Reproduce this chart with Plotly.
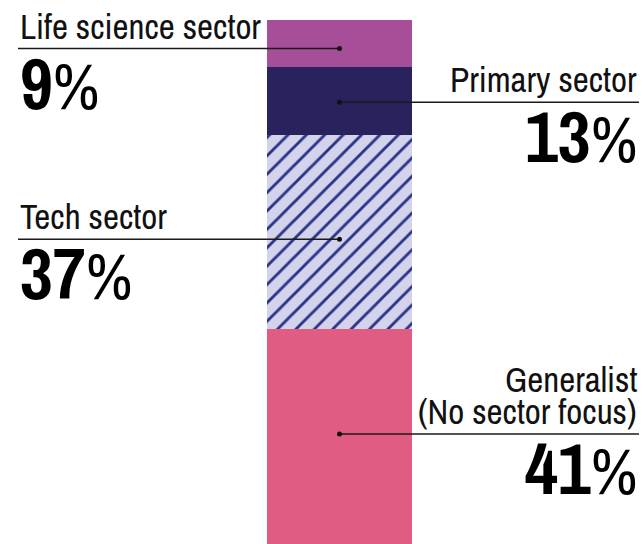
import plotly.graph_objects as go

# Share of funds by sector focus, stacked bottom to top
sectors = ["Generalist (No sector focus)", "Tech sector", "Primary sector", "Life science sector"]
shares = [41, 37, 13, 9]
label_lines = [["Generalist", "(No sector focus)"], ["Tech sector"], ["Primary sector"], ["Life science sector"]]
label_side = ["right", "left", "right", "left"]

colors = ["#E05C83", "#D3D4EB", "#28235C", "#A64E97"]
hatch = [False, True, False, False]

W, H = 643, 544
FONT = "Archivo Narrow, Roboto Condensed, sans-serif"

# pixel nudges of each leader line relative to the segment middle (positive = up)
line_nudge = [2.5, -7, -1, -5]

fig = go.Figure()
for name, v, c, h in zip(sectors, shares, colors, hatch):
    marker = dict(color=c, line=dict(width=0))
    if h:
        marker["pattern"] = dict(shape="/", fgcolor="#2B3388", bgcolor=c, fgopacity=1,
                                 size=13, solidity=0.22, fillmode="overlay")
    fig.add_trace(go.Bar(x=[0], y=[v], name=name, width=1, marker=marker,
                         hoverinfo="skip", showlegend=False))

# axis ranges chosen so the bar spans 145px, centred near x=340, top at y=20
px_per_x = 145.0
x_centre = 339.5
x_range = [-x_centre / px_per_x, (W - x_centre) / px_per_x]
px_per_y = (H - 20) / 100.0
y_range = [0, H / px_per_y]

left_x = 18 / W
right_x = 639 / W

shapes = []
annotations = []
cum = 0
for i, v in enumerate(shares):
    mid = cum + v / 2
    cum += v
    off = line_nudge[i]
    side = label_side[i]
    x_edge = left_x if side == "left" else right_x
    x_dot_paper = x_centre / W
    # leader line from the label edge to the bar centre, ending in a dot
    shapes.append(dict(type="line", xref="paper", yref="y", ysizemode="pixel",
                       yanchor=mid, x0=x_edge, x1=x_dot_paper, y0=off, y1=off,
                       line=dict(color="#1a1a1a", width=1.5)))
    shapes.append(dict(type="circle", xref="x", yref="y", xsizemode="pixel",
                       ysizemode="pixel", xanchor=0, yanchor=mid,
                       x0=-2.5, x1=2.5, y0=off - 2.5, y1=off + 2.5,
                       fillcolor="#111111", line=dict(width=0)))
    lines = label_lines[i]
    n = len(lines)
    for k, t in enumerate(lines):
        annotations.append(dict(
            text=t, xref="paper", yref="y", x=x_edge, y=mid,
            xanchor=side, yanchor="bottom", showarrow=False,
            yshift=off - 3 + (n - 1 - k) * 32,
            font=dict(family=FONT, size=35, color="#111111")))
    # bold figure with a lighter, slightly smaller percent sign
    annotations.append(dict(
        text=f"<b>{v}</b><span style='font-size:64px'>%</span>",
        xref="paper", yref="y", x=x_edge, y=mid,
        xanchor=side, yanchor="top", showarrow=False, yshift=off + 17,
        font=dict(family=FONT, size=72, color="#000000")))

fig.update_layout(
    width=W, height=H, barmode="stack", bargap=0,
    margin=dict(l=0, r=0, t=0, b=0),
    paper_bgcolor="white", plot_bgcolor="white",
    xaxis=dict(range=x_range, visible=False, fixedrange=True),
    yaxis=dict(range=y_range, visible=False, fixedrange=True),
    shapes=shapes, annotations=annotations,
)

fig.write_html("out.html")
